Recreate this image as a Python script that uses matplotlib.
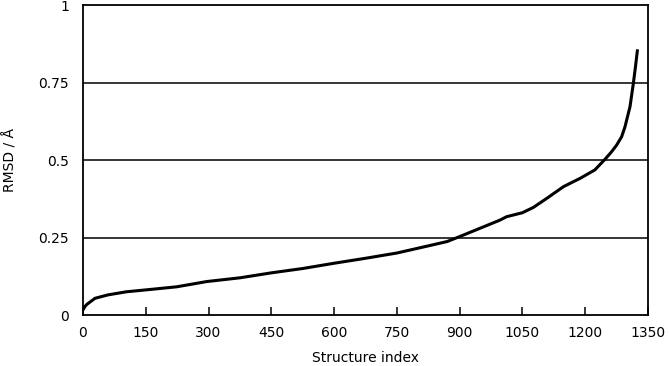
import numpy as np
import matplotlib.pyplot as plt

# sorted RMSD per structure
index = [0, 5, 10, 29, 60, 104, 150, 224, 296, 375, 450, 525, 600, 675,
         750, 825, 870, 900, 949, 996, 1012, 1050, 1076, 1110, 1148, 1188,
         1223, 1247, 1262, 1275, 1287, 1295, 1307, 1315, 1320, 1325]
rmsd = [0.016, 0.028, 0.035, 0.054, 0.065, 0.075, 0.081, 0.091, 0.108, 0.12,
        0.136, 0.15, 0.167, 0.183, 0.20, 0.223, 0.237, 0.253, 0.28, 0.306,
        0.317, 0.33, 0.347, 0.378, 0.414, 0.441, 0.468, 0.502, 0.525, 0.548,
        0.575, 0.607, 0.672, 0.747, 0.80, 0.857]
xticks = [0, 150, 300, 450, 600, 750, 900, 1050, 1200, 1350]
yticks = [0, 0.25, 0.5, 0.75, 1]
ytick_labels = ['0', '0.25', '0.5', '0.75', '1']

fig = plt.figure(figsize=(6.69, 3.66), dpi=100)
ax = fig.add_axes([0.124, 0.1393, 0.8446, 0.847])

ax.plot(index, rmsd, color='black', lw=2.2, solid_capstyle='butt')

ax.set_xlim(0, 1350)
ax.set_ylim(0, 1)
ax.set_xticks(xticks)
ax.set_xticklabels([str(t) for t in xticks])
ax.set_yticks(yticks)
ax.set_yticklabels(ytick_labels)
for y in yticks[1:-1]:
    ax.axhline(y, color='black', lw=1.1, zorder=0)

ax.tick_params(axis='x', direction='in', length=6, width=1.1, labelsize=10, pad=8)
ax.tick_params(axis='y', length=0, labelsize=10, pad=10)
for s in ax.spines.values():
    s.set_linewidth(1.3)

ax.set_xlabel('Structure index', fontsize=10, labelpad=8)
ax.set_ylabel('RMSD / Å', fontsize=10, labelpad=15)

fig.savefig('out.png', dpi=100)
